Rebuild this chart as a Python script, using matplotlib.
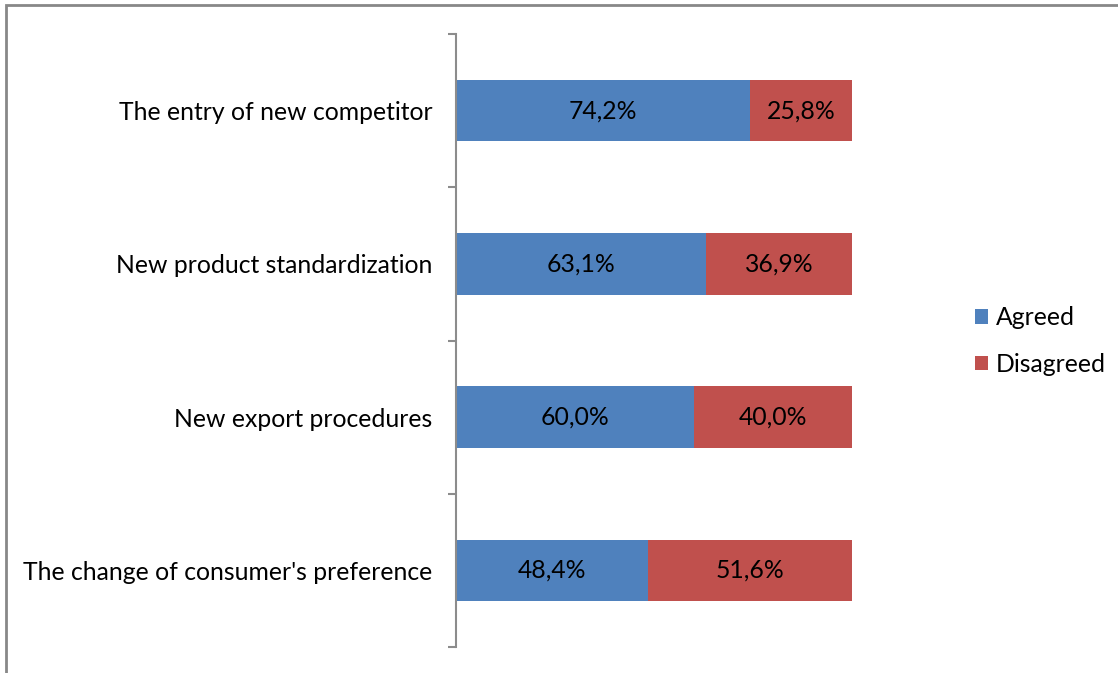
import matplotlib.pyplot as plt
from matplotlib.patches import Rectangle

categories = ["The entry of new competitor", "New product standardization",
              "New export procedures", "The change of consumer's preference"]
agreed = [74.2, 63.1, 60.0, 48.4]
disagreed = [25.8, 36.9, 40.0, 51.6]
series_names = ["Agreed", "Disagreed"]
colors = ["#4F81BD", "#C0504D"]

plt.rcParams['font.family'] = ['Lato', 'DejaVu Sans']
FS = 17.8

W, H = 1118, 673
fig = plt.figure(figsize=(W / 100, H / 100), dpi=100)
ax = fig.add_axes([456 / W, 1 - 647 / H, (852 - 456) / W, (647 - 34) / H])

# top category first
ypos = list(range(len(categories)))[::-1]

bars_a = ax.barh(ypos, agreed, height=0.4, color=colors[0], label=series_names[0])
bars_d = ax.barh(ypos, disagreed, left=agreed, height=0.4, color=colors[1],
                 label=series_names[1])

for bars, vals in [(bars_a, agreed), (bars_d, disagreed)]:
    for b, v in zip(bars, vals):
        ax.text(b.get_x() + b.get_width() / 2, b.get_y() + b.get_height() / 2,
                f"{v:.1f}%".replace('.', ','), ha='center', va='center',
                fontsize=FS, color='black')

ax.set_xlim(0, 100)
ax.set_ylim(-0.5, len(categories) - 0.5)
ax.set_yticks(ypos)
ax.set_yticklabels(categories, fontsize=FS)
ax.set_yticks([i - 0.5 for i in range(len(categories) + 1)], minor=True)
ax.tick_params(axis='y', which='major', length=0, pad=17)
ax.tick_params(axis='y', which='minor', length=5.8, width=1.5, color='#8c8c8c')
ax.set_xticks([])
for s in ['top', 'right', 'bottom']:
    ax.spines[s].set_visible(False)
ax.spines['left'].set_color('#8c8c8c')
ax.spines['left'].set_linewidth(1.5)

ax.legend(loc='center left', bbox_to_anchor=(963 / W, 1 - 341 / H),
          bbox_transform=fig.transFigure, frameon=False, fontsize=FS,
          handlelength=0.52, handleheight=0.52, handletextpad=0.3,
          labelspacing=0.95, borderpad=0)

# outer chart frame
fig.patches.append(Rectangle((6 / W, -0.1), 1.2, 1 - 5 / H + 0.1,
                             transform=fig.transFigure, fill=False,
                             edgecolor='#888888', linewidth=2))

fig.savefig('out.png', dpi=100)
